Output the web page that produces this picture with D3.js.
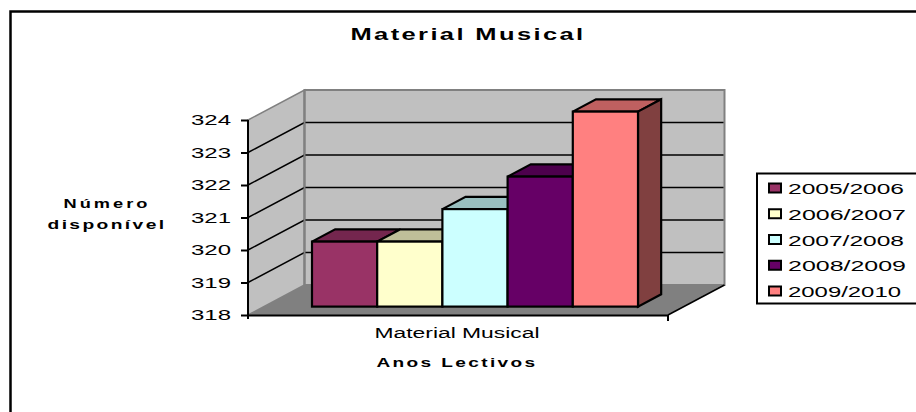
<!DOCTYPE html>
<html><head><meta charset="utf-8">
<script src="https://cdn.jsdelivr.net/npm/d3@7"></script>
<style>html,body{margin:0;padding:0;background:#fff}svg{display:block}text{font-family:"Liberation Sans",Arial,sans-serif;fill:#000}</style>
</head><body><svg id="c" width="916" height="412"></svg>
<script>
const categories = ["Material Musical"];
const years = ["2005/2006","2006/2007","2007/2008","2008/2009","2009/2010"];
const values = [320,320,321,322,324];
const frontColors = ["#993366","#ffffcc","#ccffff","#660066","#ff8080"];
const topColors = ["#74264e","#bfbf99","#99bfbf","#4d004d","#bf6060"];
const sideColor = "#804040";
const yTicks = [318,319,320,321,322,323,324];

const svg = d3.select("#c");
const y = d3.scaleLinear().domain([318,324]).range([315,120]);
const xCat = d3.scaleBand().domain(categories).range([248,668]);
const depthDx = 56.5, depthDy = -30;
const barInset = 0.28, barDepth = 0.41;
const px = (x,d)=>x+depthDx*d, py = (yy,d)=>yy+depthDy*d;
const pts = a=>a.map(p=>p.join(",")).join(" ");

const x0=xCat.range()[0], x1=xCat.range()[1], yB=y(318), yT=y(324)-30;

// frame
svg.append("path").attr("d","M10.5,412V11.5H916").attr("fill","none").attr("stroke","#000").attr("stroke-width",2.5);

// walls and floor
svg.append("polygon").attr("points",pts([[px(x0,1),py(yB,1)],[px(x1,1),py(yB,1)],[x1,yB],[x0,yB]])).attr("fill","#808080");
svg.append("polygon").attr("points",pts([[x0,yB],[x0,y(324)],[px(x0,1),yT],[px(x0,1),py(yB,1)]])).attr("fill","#c0c0c0").attr("stroke","#808080").attr("stroke-width",1.5);
svg.append("rect").attr("x",px(x0,1)).attr("y",yT).attr("width",x1-x0).attr("height",yB-y(324)).attr("fill","#c0c0c0").attr("stroke","#808080").attr("stroke-width",2);
svg.append("line").attr("x1",x1).attr("y1",yB).attr("x2",px(x1,1)).attr("y2",py(yB,1)).attr("stroke","#000").attr("stroke-width",1.5);

// gridlines
yTicks.slice(1,-1).forEach(t=>{
  svg.append("polyline").attr("points",pts([[x0,y(t)],[px(x0,1),py(y(t),1)],[px(x1,1)-1,py(y(t),1)]])).attr("fill","none").attr("stroke","#000").attr("stroke-width",1.5);
});
svg.append("line").attr("x1",px(x0,1)).attr("x2",px(x0,1)).attr("y1",yT).attr("y2",py(yB,1)).attr("stroke","#808080").attr("stroke-width",2);

// bars
const band = d3.scaleBand().domain(years).range([312,638]);
const g = svg.append("g").attr("stroke","#000").attr("stroke-width",2.2).attr("stroke-linejoin","miter");
const yBar = v=>py(y(v),barInset);
years.forEach((yr,i)=>{
  const l=band(yr), r=l+band.bandwidth(), t=yBar(values[i]), b=yBar(318);
  g.append("polygon").attr("points",pts([[l,t],[r,t],[px(r,barDepth),py(t,barDepth)],[px(l,barDepth),py(t,barDepth)]])).attr("fill",topColors[i]);
  if(i===years.length-1) g.append("polygon").attr("points",pts([[r,t],[px(r,barDepth),py(t,barDepth)],[px(r,barDepth),py(b,barDepth)],[r,b]])).attr("fill",sideColor);
  g.append("rect").attr("x",l).attr("y",t).attr("width",r-l).attr("height",b-t).attr("fill",frontColors[i]);
});

// axes
const axisY = d3.axisLeft(y).tickValues(yTicks).tickSize(7).tickPadding(10).tickFormat(d3.format("d"));
const ay = svg.append("g").attr("transform",`translate(${x0},0)`).call(axisY);
ay.selectAll("path,line").attr("stroke","#000").attr("stroke-width",2);
ay.select(".domain").attr("d",`M0,${y(324)}V${yB+4}`);
ay.selectAll("text").attr("font-size",15).attr("font-family",null).attr("textLength",40).attr("lengthAdjust","spacingAndGlyphs").attr("dy","0.3em");
const axisX = d3.axisBottom(xCat).tickSize(0).tickFormat(()=>"");
const ax = svg.append("g").attr("transform",`translate(0,${yB})`).call(axisX);
ax.select(".domain").attr("stroke","#000").attr("stroke-width",2);
svg.append("line").attr("x1",x1).attr("x2",x1).attr("y1",yB).attr("y2",yB+6).attr("stroke","#000").attr("stroke-width",2);

function label(txt,x,yy,size,weight,len,anchor,spacing){
  return svg.append("text").text(txt).attr("x",x).attr("y",yy).attr("font-size",size).attr("font-weight",weight)
    .attr("text-anchor",anchor||"middle").attr("textLength",len).attr("lengthAdjust","spacingAndGlyphs")
    .style("letter-spacing",(spacing||0)+"px");
}
label("Material Musical",468,40,16,"bold",235,"middle",1.5);
label("Material Musical",457,338,14,"normal",165);
label("Anos Lectivos",457,367,12,"bold",161,"middle",1.5);
label("Número",107,208,12,"bold",87,"middle",2);
label("disponível",107,229,12,"bold",119,"middle",1.5);

// legend
svg.append("rect").attr("x",757).attr("y",173.5).attr("width",170).attr("height",130).attr("fill","#fff").attr("stroke","#000").attr("stroke-width",2);
const ly = d3.scalePoint().domain(years).range([188,291]);
years.forEach((yr,i)=>{
  svg.append("rect").attr("x",769).attr("y",ly(yr)-4.5).attr("width",12).attr("height",9).attr("fill",frontColors[i]).attr("stroke","#000").attr("stroke-width",2);
  label(yr,788,ly(yr)+6,15,"normal",yr==="2009/2010"?113:(i%2?118:116),"start");
});
</script></body></html>
